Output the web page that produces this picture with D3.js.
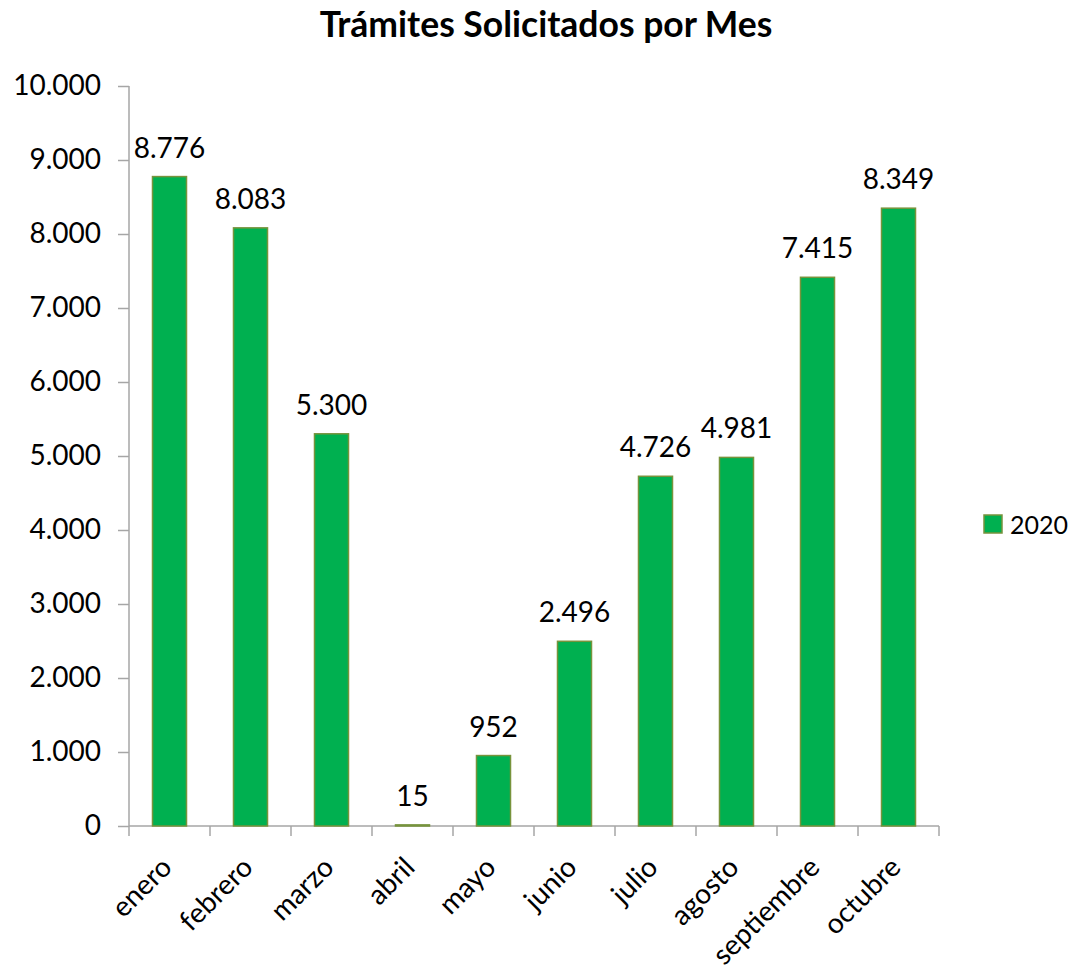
<!DOCTYPE html>
<html>
<head>
<meta charset="utf-8">
<script src="https://cdn.jsdelivr.net/npm/d3@7"></script>
<style>
  body { margin: 0; background: #fff; }
  svg { font-family: Lato, "Open Sans", sans-serif; }
</style>
</head>
<body>
<script>
// data
var months = ["enero", "febrero", "marzo", "abril", "mayo", "junio", "julio", "agosto", "septiembre", "octubre"]
var values2020 = [8776, 8083, 5300, 15, 952, 2496, 4726, 4981, 7415, 8349]
var yTicks = [0, 1000, 2000, 3000, 4000, 5000, 6000, 7000, 8000, 9000, 10000]
var seriesName = "2020"
var title = "Trámites Solicitados por Mes"

var W = 1080, H = 973
var plotLeft = 129, plotRight = 939, plotTop = 86, plotBottom = 826

var loc = d3.formatLocale({ decimal: ",", thousands: ".", grouping: [3], currency: ["", ""] })
var fmt = loc.format(",d")

var svg = d3.select("body").append("svg")
	.attr("width", W)
	.attr("height", H)

var x = d3.scaleBand()
	.domain(months)
	.range([plotLeft, plotRight])
	.paddingInner(0.58)
	.paddingOuter(0.29)

var y = d3.scaleLinear()
	.domain([0, 10000])
	.range([plotBottom, plotTop])

svg.append("text")
	.attr("x", 546)
	.attr("y", 37)
	.attr("text-anchor", "middle")
	.attr("font-weight", "bold")
	.attr("font-size", 35.5)
	.text(title)

// y axis
var yAxis = svg.append("g")
	.attr("transform", "translate(" + plotLeft + ",0)")
	.call(d3.axisLeft(y).tickValues(yTicks).tickFormat(fmt).tickSize(11).tickPadding(17))
yAxis.select(".domain").remove()
yAxis.append("line")
	.attr("y1", plotTop).attr("y2", plotBottom)
	.attr("stroke", "#a6a6a6").attr("stroke-width", 1.5)
yAxis.selectAll("line").attr("stroke", "#a6a6a6").attr("stroke-width", 1.5)
yAxis.selectAll("text").attr("font-size", 28).attr("fill", "#000").attr("font-family", "Lato")

// x axis, ticks at category boundaries
var xAxis = svg.append("g")
	.attr("transform", "translate(0," + plotBottom + ")")
xAxis.append("line")
	.attr("x1", plotLeft).attr("x2", plotRight)
	.attr("stroke", "#a6a6a6").attr("stroke-width", 1.5)
var step = x.step()
xAxis.selectAll(".tk")
	.data(d3.range(months.length + 1))
	.enter()
	.append("line")
	.attr("x1", function(d) { return plotLeft + d * step })
	.attr("x2", function(d) { return plotLeft + d * step })
	.attr("y1", 0).attr("y2", 10)
	.attr("stroke", "#a6a6a6").attr("stroke-width", 1.5)

xAxis.selectAll(".lbl")
	.data(months)
	.enter()
	.append("text")
	.attr("text-anchor", "end")
	.attr("font-size", 28)
	.attr("transform", function(d) {
		var cx = x(d) + x.bandwidth() / 2 + 4
		return "translate(" + cx + ",43) rotate(-45)"
	})
	.text(function(d) { return d })

// bars
svg.selectAll("rect.bar")
	.data(values2020)
	.enter()
	.append("rect")
	.attr("class", "bar")
	.attr("x", function(d, i) { return x(months[i]) })
	.attr("width", x.bandwidth())
	.attr("y", function(d) { return y(d) })
	.attr("height", function(d) { return plotBottom - y(d) })
	.attr("fill", "#00b050")
	.attr("stroke", "#77933c")
	.attr("stroke-width", 1.5)

svg.selectAll("text.val")
	.data(values2020)
	.enter()
	.append("text")
	.attr("class", "val")
	.attr("text-anchor", "middle")
	.attr("font-size", 28)
	.attr("x", function(d, i) { return x(months[i]) + x.bandwidth() / 2 })
	.attr("y", function(d) { return y(d) - 19 })
	.text(function(d) { return fmt(d) })

// legend
svg.append("rect")
	.attr("x", 984).attr("y", 515)
	.attr("width", 18).attr("height", 18)
	.attr("fill", "#00b050")
	.attr("stroke", "#77933c")
	.attr("stroke-width", 1.5)
svg.append("text")
	.attr("x", 1010).attr("y", 534)
	.attr("font-size", 25)
	.text(seriesName)
</script>
</body>
</html>
